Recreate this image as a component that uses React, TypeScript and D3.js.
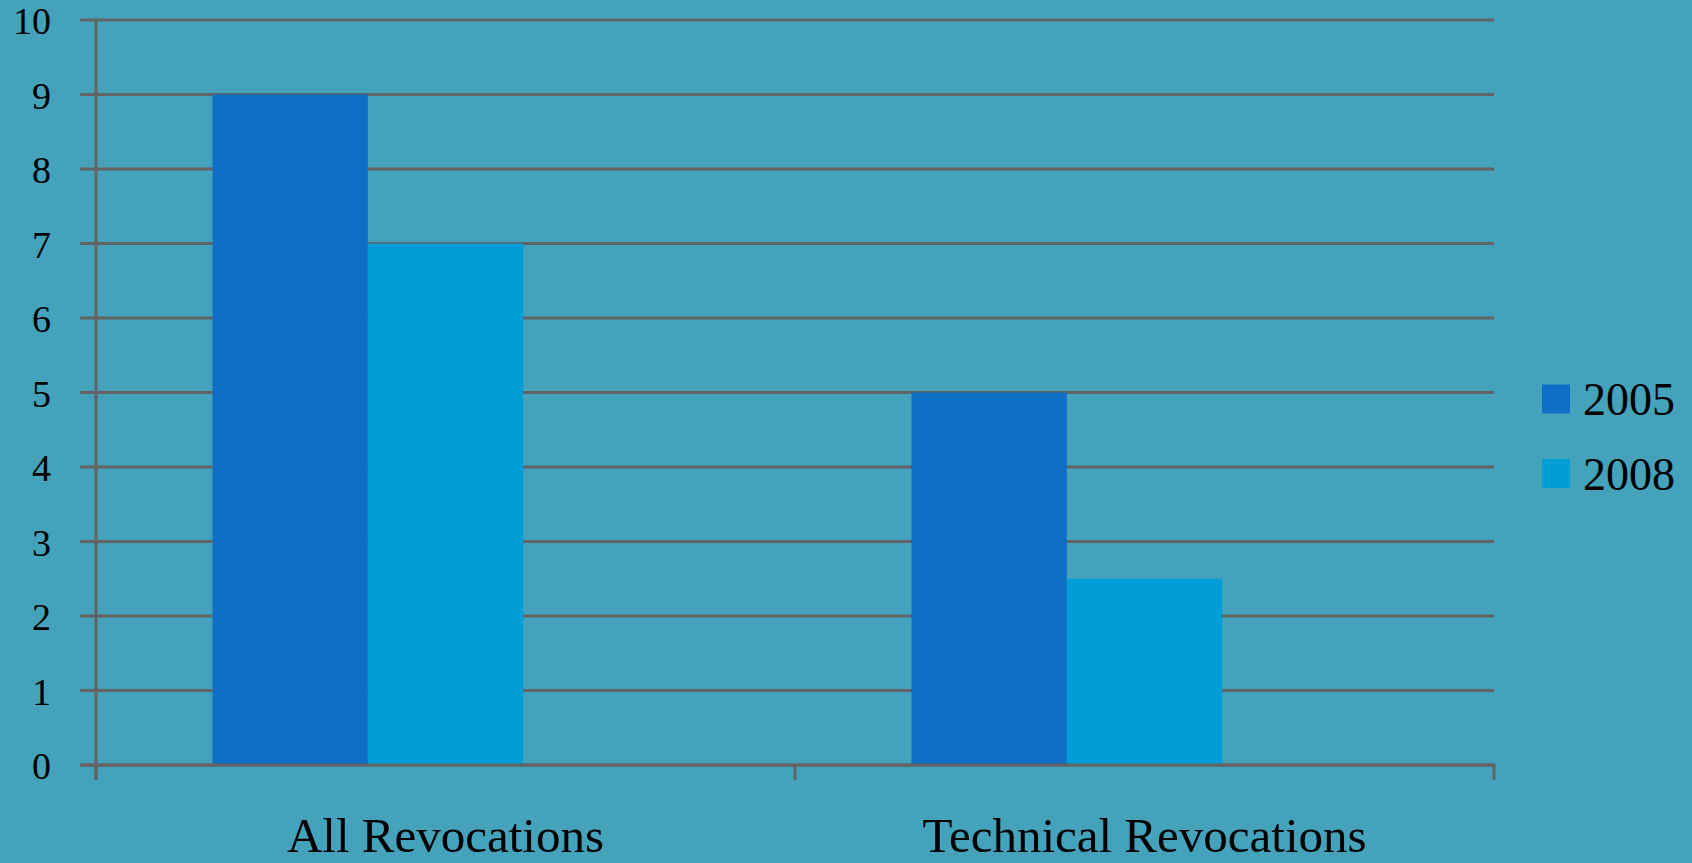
import React from "react";
import * as d3 from "d3";

// Revocation counts by category, compared across two years
const categories = ["All Revocations", "Technical Revocations"];
const seriesNames = ["2005", "2008"];
const values2005 = [9, 5];
const values2008 = [7, 2.5];
const yTicks = [0, 1, 2, 3, 4, 5, 6, 7, 8, 9, 10];

const seriesValues = [values2005, values2008];
const seriesColors = ["#0F6FC6", "#009DD9"];

const W = 1692;
const H = 863;
const plot = { left: 96, right: 1494, top: 20, bottom: 765 };
const lineColor = "#636363";
const bg = "#44A2BB";
const font = "'Liberation Serif', 'Times New Roman', serif";

export default function App() {
  const x0 = d3
    .scaleBand<string>()
    .domain(categories)
    .range([plot.left, plot.right])
    .padding(0);

  // Bars take 2 of 4.5 slot widths in each category, offset toward the left
  const x1 = d3
    .scaleBand<string>()
    .domain(seriesNames)
    .range([0, x0.bandwidth()])
    .paddingInner(0)
    .paddingOuter(1.25)
    .align(0.3);

  const y = d3.scaleLinear().domain([0, 10]).range([plot.bottom, plot.top]);

  const catEdges = [...categories.map((c) => x0(c) as number), plot.right];

  return (
    <svg
      width={W}
      height={H}
      style={{ position: "fixed", left: 0, top: 0, display: "block" }}
    >
      <rect x={0} y={0} width={W} height={H} fill={bg} />

      {/* horizontal gridlines with left tick stubs */}
      {yTicks.map((t) => (
        <line
          key={"g" + t}
          x1={80}
          x2={plot.right}
          y1={y(t)}
          y2={y(t)}
          stroke={lineColor}
          strokeWidth={3}
        />
      ))}

      {/* bars */}
      {seriesNames.map((s, si) =>
        categories.map((c, ci) => {
          const v = seriesValues[si][ci];
          return (
            <rect
              key={s + c}
              x={(x0(c) as number) + (x1(s) as number)}
              y={y(v)}
              width={x1.bandwidth()}
              height={y(0) - y(v)}
              fill={seriesColors[si]}
            />
          );
        })
      )}

      {/* axes */}
      <line
        x1={plot.left}
        x2={plot.left}
        y1={plot.top - 1}
        y2={780}
        stroke={lineColor}
        strokeWidth={3}
      />
      <line
        x1={80}
        x2={plot.right + 1.5}
        y1={y(0)}
        y2={y(0)}
        stroke={lineColor}
        strokeWidth={3}
      />
      {catEdges.map((xe, i) => (
        <line
          key={"ct" + i}
          x1={xe}
          x2={xe}
          y1={y(0)}
          y2={780}
          stroke={lineColor}
          strokeWidth={3}
        />
      ))}

      {/* y tick labels */}
      {yTicks.map((t) => (
        <text
          key={"l" + t}
          x={51}
          y={y(t) + 14}
          textAnchor="end"
          fontFamily={font}
          fontSize={38}
          fill="#000"
        >
          {t}
        </text>
      ))}

      {/* category labels */}
      {categories.map((c) => (
        <text
          key={"c" + c}
          x={(x0(c) as number) + x0.bandwidth() / 2}
          y={852}
          textAnchor="middle"
          fontFamily={font}
          fontSize={49}
          fill="#000"
        >
          {c}
        </text>
      ))}

      {/* legend */}
      {seriesNames.map((s, i) => {
        const cy = 399 + i * 74.5;
        return (
          <g key={"lg" + s}>
            <rect x={1542} y={cy - 14.5} width={28} height={29} fill={seriesColors[i]} />
            <text
              x={1583}
              y={cy + 16}
              fontFamily={font}
              fontSize={46}
              fill="#000"
            >
              {s}
            </text>
          </g>
        );
      })}
    </svg>
  );
}
